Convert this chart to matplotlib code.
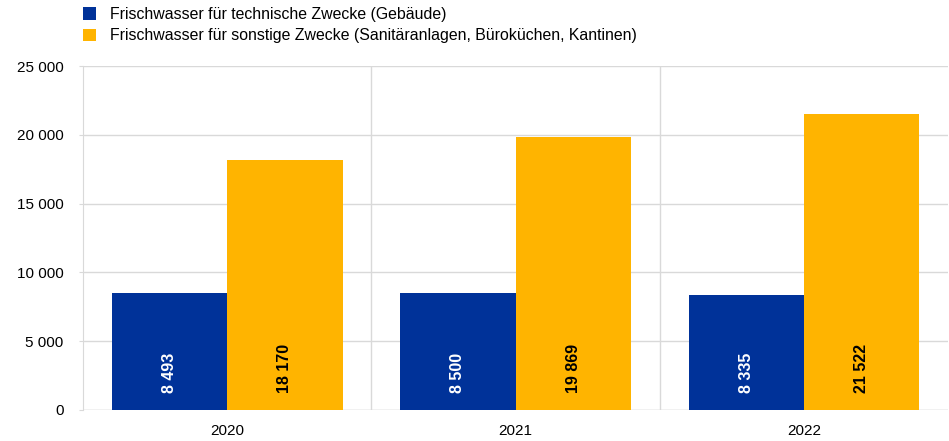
import matplotlib.pyplot as plt
import numpy as np

years = ["2020", "2021", "2022"]
technisch = [8493, 8500, 8335]
sonstige = [18170, 19869, 21522]
series_names = ["Frischwasser für technische Zwecke (Gebäude)",
                "Frischwasser für sonstige Zwecke (Sanitäranlagen, Büroküchen, Kantinen)"]
yticks = [0, 5000, 10000, 15000, 20000, 25000]

BLUE = "#003299"
YELLOW = "#FFB400"
GRID = "#d9d9d9"

plt.rcParams['font.family'] = ['Liberation Sans', 'DejaVu Sans']


def fmt(v):
    return "{:,}".format(int(v)).replace(",", " ")


fig = plt.figure(figsize=(9.49, 4.41), dpi=100)
ax = fig.add_axes([0.0875, 0.0703, 0.9115, 0.7797])

x = np.arange(len(years))
w = 0.4
b1 = ax.bar(x - w / 2, technisch, w, color=BLUE, label=series_names[0], zorder=3)
b2 = ax.bar(x + w / 2, sonstige, w, color=YELLOW, label=series_names[1], zorder=3)

for bars, vals, col in [(b1, technisch, "white"), (b2, sonstige, "black")]:
    for rect, v in zip(bars, vals):
        ax.annotate(fmt(v), (rect.get_x() + rect.get_width() / 2, 0),
                    xytext=(0, 12), textcoords="offset points",
                    rotation=90, ha="center", va="bottom",
                    fontsize=11.5, fontweight="bold", color=col, zorder=4)

ax.set_xlim(-0.5, len(years) - 0.5)
ax.set_ylim(0, 25000)
ax.set_yticks(yticks)
ax.set_yticklabels([fmt(t) for t in yticks])
ax.set_xticks(x)
ax.set_xticklabels(years)

# horizontal grid plus separators between the years
ax.grid(axis="y", color=GRID, linewidth=1, zorder=0)
for sep in np.arange(0.5, len(years) - 0.5):
    ax.axvline(sep, color=GRID, linewidth=1, zorder=0)

for s in ["top", "right", "bottom"]:
    ax.spines[s].set_visible(False)
ax.spines["left"].set_color(GRID)
ax.axhline(0, color=GRID, linewidth=1, zorder=1)
ax.tick_params(axis="y", length=3, color=GRID, labelsize=11, pad=11)
ax.tick_params(axis="x", length=0, labelsize=11, pad=10)

fig.legend(loc="upper left", bbox_to_anchor=(0.0875, 1 - 7 / 441), frameon=False,
           fontsize=11.4, handlelength=0.82, handleheight=0.82,
           handletextpad=0.88, labelspacing=0.4, borderaxespad=0, borderpad=0)

fig.savefig("out.png", dpi=100)
